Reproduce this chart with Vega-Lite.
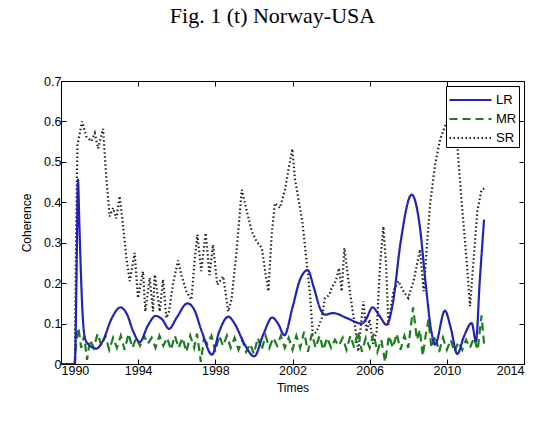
{
  "$schema": "https://vega.github.io/schema/vega-lite/v6.json",
  "width": 463,
  "height": 283,
  "autosize": {"type": "none"},
  "padding": {"left": 61, "top": 81, "right": 25, "bottom": 65},
  "background": "white",
  "title": {"text": "Fig. 1 (t) Norway-USA", "font": "Liberation Serif", "fontSize": 22, "fontWeight": "normal", "color": "black", "anchor": "middle", "offset": 47, "dx": -20},
  "datasets": {
    "lr": [
      {"series": "LR", "year": 1990.0, "value": 0}, {"series": "LR", "year": 1990.72, "value": 0}, {"series": "LR", "year": 1990.8, "value": 0.2}, {"series": "LR", "year": 1990.88, "value": 0.456},
      {"series": "LR", "year": 1990.95, "value": 0.35}, {"series": "LR", "year": 1991.05, "value": 0.2}, {"series": "LR", "year": 1991.15, "value": 0.1}, {"series": "LR", "year": 1991.25, "value": 0.062},
      {"series": "LR", "year": 1991.5, "value": 0.045}, {"series": "LR", "year": 1991.83, "value": 0.038}, {"series": "LR", "year": 1992.2, "value": 0.06}, {"series": "LR", "year": 1992.6, "value": 0.11},
      {"series": "LR", "year": 1993.09, "value": 0.14}, {"series": "LR", "year": 1993.4, "value": 0.125}, {"series": "LR", "year": 1993.75, "value": 0.08}, {"series": "LR", "year": 1994.08, "value": 0.054},
      {"series": "LR", "year": 1994.5, "value": 0.095}, {"series": "LR", "year": 1994.91, "value": 0.119}, {"series": "LR", "year": 1995.25, "value": 0.11}, {"series": "LR", "year": 1995.6, "value": 0.087},
      {"series": "LR", "year": 1996.0, "value": 0.115}, {"series": "LR", "year": 1996.55, "value": 0.15}, {"series": "LR", "year": 1996.9, "value": 0.135}, {"series": "LR", "year": 1997.3, "value": 0.08},
      {"series": "LR", "year": 1997.83, "value": 0.023}, {"series": "LR", "year": 1998.2, "value": 0.08}, {"series": "LR", "year": 1998.67, "value": 0.117}, {"series": "LR", "year": 1999.0, "value": 0.1},
      {"series": "LR", "year": 1999.5, "value": 0.05}, {"series": "LR", "year": 2000.02, "value": 0.019}, {"series": "LR", "year": 2000.5, "value": 0.075}, {"series": "LR", "year": 2000.95, "value": 0.115},
      {"series": "LR", "year": 2001.25, "value": 0.1}, {"series": "LR", "year": 2001.58, "value": 0.071}, {"series": "LR", "year": 2002.0, "value": 0.14}, {"series": "LR", "year": 2002.4, "value": 0.21},
      {"series": "LR", "year": 2002.79, "value": 0.232}, {"series": "LR", "year": 2003.1, "value": 0.19}, {"series": "LR", "year": 2003.45, "value": 0.135}, {"series": "LR", "year": 2003.68, "value": 0.122},
      {"series": "LR", "year": 2004.11, "value": 0.126}, {"series": "LR", "year": 2004.8, "value": 0.114}, {"series": "LR", "year": 2005.59, "value": 0.1}, {"series": "LR", "year": 2005.8, "value": 0.11},
      {"series": "LR", "year": 2006.15, "value": 0.14}, {"series": "LR", "year": 2006.5, "value": 0.12}, {"series": "LR", "year": 2006.88, "value": 0.097}, {"series": "LR", "year": 2007.2, "value": 0.15},
      {"series": "LR", "year": 2007.6, "value": 0.3}, {"series": "LR", "year": 2008.18, "value": 0.419}, {"series": "LR", "year": 2008.6, "value": 0.34}, {"series": "LR", "year": 2008.9, "value": 0.2},
      {"series": "LR", "year": 2009.2, "value": 0.08}, {"series": "LR", "year": 2009.39, "value": 0.048}, {"series": "LR", "year": 2009.9, "value": 0.132}, {"series": "LR", "year": 2010.2, "value": 0.09},
      {"series": "LR", "year": 2010.54, "value": 0.025}, {"series": "LR", "year": 2010.9, "value": 0.07}, {"series": "LR", "year": 2011.29, "value": 0.101}, {"series": "LR", "year": 2011.51, "value": 0.056},
      {"series": "LR", "year": 2011.7, "value": 0.2}, {"series": "LR", "year": 2011.93, "value": 0.357}
    ],
    "mr": [
      {"series": "MR", "year": 1990.0, "value": 0}, {"series": "MR", "year": 1990.7, "value": 0}, {"series": "MR", "year": 1990.78, "value": 0.05}, {"series": "MR", "year": 1990.9, "value": 0.09},
      {"series": "MR", "year": 1991.05, "value": 0.04}, {"series": "MR", "year": 1991.2, "value": 0.07}, {"series": "MR", "year": 1991.35, "value": 0.01}, {"series": "MR", "year": 1991.5, "value": 0.06},
      {"series": "MR", "year": 1991.7, "value": 0.04}, {"series": "MR", "year": 1991.9, "value": 0.075}, {"series": "MR", "year": 1992.1, "value": 0.045}, {"series": "MR", "year": 1992.3, "value": 0.07},
      {"series": "MR", "year": 1992.5, "value": 0.035}, {"series": "MR", "year": 1992.7, "value": 0.065}, {"series": "MR", "year": 1992.9, "value": 0.04}, {"series": "MR", "year": 1993.1, "value": 0.07},
      {"series": "MR", "year": 1993.3, "value": 0.035}, {"series": "MR", "year": 1993.5, "value": 0.075}, {"series": "MR", "year": 1993.7, "value": 0.04}, {"series": "MR", "year": 1993.9, "value": 0.065},
      {"series": "MR", "year": 1994.1, "value": 0.045}, {"series": "MR", "year": 1994.3, "value": 0.07}, {"series": "MR", "year": 1994.5, "value": 0.05}, {"series": "MR", "year": 1994.7, "value": 0.065},
      {"series": "MR", "year": 1994.9, "value": 0.04}, {"series": "MR", "year": 1995.1, "value": 0.07}, {"series": "MR", "year": 1995.3, "value": 0.045}, {"series": "MR", "year": 1995.5, "value": 0.065},
      {"series": "MR", "year": 1995.7, "value": 0.035}, {"series": "MR", "year": 1995.9, "value": 0.07}, {"series": "MR", "year": 1996.1, "value": 0.04}, {"series": "MR", "year": 1996.3, "value": 0.065},
      {"series": "MR", "year": 1996.5, "value": 0.03}, {"series": "MR", "year": 1996.7, "value": 0.07}, {"series": "MR", "year": 1996.9, "value": 0.04}, {"series": "MR", "year": 1997.05, "value": 0.075},
      {"series": "MR", "year": 1997.25, "value": 0.005}, {"series": "MR", "year": 1997.4, "value": 0.06}, {"series": "MR", "year": 1997.6, "value": 0.05}, {"series": "MR", "year": 1997.8, "value": 0.07},
      {"series": "MR", "year": 1998.0, "value": 0.03}, {"series": "MR", "year": 1998.2, "value": 0.07}, {"series": "MR", "year": 1998.4, "value": 0.045}, {"series": "MR", "year": 1998.6, "value": 0.07},
      {"series": "MR", "year": 1998.8, "value": 0.04}, {"series": "MR", "year": 1999.0, "value": 0.065}, {"series": "MR", "year": 1999.2, "value": 0.035}, {"series": "MR", "year": 1999.4, "value": 0.06},
      {"series": "MR", "year": 1999.6, "value": 0.03}, {"series": "MR", "year": 1999.8, "value": 0.05}, {"series": "MR", "year": 2000.0, "value": 0.025}, {"series": "MR", "year": 2000.2, "value": 0.065},
      {"series": "MR", "year": 2000.4, "value": 0.035}, {"series": "MR", "year": 2000.6, "value": 0.07}, {"series": "MR", "year": 2000.8, "value": 0.04}, {"series": "MR", "year": 2001.0, "value": 0.065},
      {"series": "MR", "year": 2001.2, "value": 0.045}, {"series": "MR", "year": 2001.4, "value": 0.07}, {"series": "MR", "year": 2001.6, "value": 0.04}, {"series": "MR", "year": 2001.8, "value": 0.065},
      {"series": "MR", "year": 2002.0, "value": 0.035}, {"series": "MR", "year": 2002.2, "value": 0.07}, {"series": "MR", "year": 2002.4, "value": 0.04}, {"series": "MR", "year": 2002.6, "value": 0.08},
      {"series": "MR", "year": 2002.8, "value": 0.03}, {"series": "MR", "year": 2003.0, "value": 0.075}, {"series": "MR", "year": 2003.2, "value": 0.04}, {"series": "MR", "year": 2003.4, "value": 0.07},
      {"series": "MR", "year": 2003.6, "value": 0.035}, {"series": "MR", "year": 2003.8, "value": 0.065}, {"series": "MR", "year": 2004.0, "value": 0.04}, {"series": "MR", "year": 2004.2, "value": 0.06},
      {"series": "MR", "year": 2004.4, "value": 0.045}, {"series": "MR", "year": 2004.6, "value": 0.065}, {"series": "MR", "year": 2004.8, "value": 0.035}, {"series": "MR", "year": 2005.0, "value": 0.07},
      {"series": "MR", "year": 2005.2, "value": 0.04}, {"series": "MR", "year": 2005.4, "value": 0.08}, {"series": "MR", "year": 2005.6, "value": 0.03}, {"series": "MR", "year": 2005.8, "value": 0.065},
      {"series": "MR", "year": 2006.0, "value": 0.04}, {"series": "MR", "year": 2006.2, "value": 0.075}, {"series": "MR", "year": 2006.4, "value": 0.03}, {"series": "MR", "year": 2006.6, "value": 0.06},
      {"series": "MR", "year": 2006.8, "value": 0.005}, {"series": "MR", "year": 2007.0, "value": 0.07}, {"series": "MR", "year": 2007.2, "value": 0.04}, {"series": "MR", "year": 2007.4, "value": 0.075},
      {"series": "MR", "year": 2007.6, "value": 0.035}, {"series": "MR", "year": 2007.8, "value": 0.07}, {"series": "MR", "year": 2008.0, "value": 0.04}, {"series": "MR", "year": 2008.25, "value": 0.14},
      {"series": "MR", "year": 2008.45, "value": 0.06}, {"series": "MR", "year": 2008.6, "value": 0.085}, {"series": "MR", "year": 2008.75, "value": 0.02}, {"series": "MR", "year": 2008.9, "value": 0.07},
      {"series": "MR", "year": 2009.05, "value": 0.11}, {"series": "MR", "year": 2009.2, "value": 0.04}, {"series": "MR", "year": 2009.4, "value": 0.07}, {"series": "MR", "year": 2009.6, "value": 0.03},
      {"series": "MR", "year": 2009.8, "value": 0.065}, {"series": "MR", "year": 2010.0, "value": 0.035}, {"series": "MR", "year": 2010.2, "value": 0.06}, {"series": "MR", "year": 2010.4, "value": 0.03},
      {"series": "MR", "year": 2010.6, "value": 0.055}, {"series": "MR", "year": 2010.8, "value": 0.035}, {"series": "MR", "year": 2011.0, "value": 0.06}, {"series": "MR", "year": 2011.2, "value": 0.04},
      {"series": "MR", "year": 2011.4, "value": 0.065}, {"series": "MR", "year": 2011.6, "value": 0.035}, {"series": "MR", "year": 2011.8, "value": 0.12}, {"series": "MR", "year": 2011.95, "value": 0.04}
    ],
    "sr": [
      {"series": "SR", "year": 1990.0, "value": 0}, {"series": "SR", "year": 1990.72, "value": 0}, {"series": "SR", "year": 1990.78, "value": 0.3}, {"series": "SR", "year": 1990.85, "value": 0.54},
      {"series": "SR", "year": 1991.09, "value": 0.6}, {"series": "SR", "year": 1991.31, "value": 0.563}, {"series": "SR", "year": 1991.57, "value": 0.551}, {"series": "SR", "year": 1991.75, "value": 0.571},
      {"series": "SR", "year": 1991.92, "value": 0.533}, {"series": "SR", "year": 1992.18, "value": 0.582}, {"series": "SR", "year": 1992.35, "value": 0.46}, {"series": "SR", "year": 1992.52, "value": 0.365},
      {"series": "SR", "year": 1992.7, "value": 0.386}, {"series": "SR", "year": 1992.87, "value": 0.36}, {"series": "SR", "year": 1993.04, "value": 0.415}, {"series": "SR", "year": 1993.21, "value": 0.345},
      {"series": "SR", "year": 1993.39, "value": 0.262}, {"series": "SR", "year": 1993.56, "value": 0.205}, {"series": "SR", "year": 1993.82, "value": 0.275}, {"series": "SR", "year": 1993.99, "value": 0.163},
      {"series": "SR", "year": 1994.25, "value": 0.229}, {"series": "SR", "year": 1994.37, "value": 0.13}, {"series": "SR", "year": 1994.6, "value": 0.213}, {"series": "SR", "year": 1994.77, "value": 0.13},
      {"series": "SR", "year": 1994.86, "value": 0.221}, {"series": "SR", "year": 1995.12, "value": 0.13}, {"series": "SR", "year": 1995.29, "value": 0.209}, {"series": "SR", "year": 1995.46, "value": 0.114},
      {"series": "SR", "year": 1995.6, "value": 0.13}, {"series": "SR", "year": 1995.81, "value": 0.2}, {"series": "SR", "year": 1996.07, "value": 0.256}, {"series": "SR", "year": 1996.24, "value": 0.22},
      {"series": "SR", "year": 1996.5, "value": 0.18}, {"series": "SR", "year": 1996.76, "value": 0.159}, {"series": "SR", "year": 1996.93, "value": 0.258}, {"series": "SR", "year": 1997.07, "value": 0.32},
      {"series": "SR", "year": 1997.27, "value": 0.23}, {"series": "SR", "year": 1997.5, "value": 0.324}, {"series": "SR", "year": 1997.7, "value": 0.22}, {"series": "SR", "year": 1997.88, "value": 0.295},
      {"series": "SR", "year": 1998.1, "value": 0.196}, {"series": "SR", "year": 1998.41, "value": 0.217}, {"series": "SR", "year": 1998.67, "value": 0.13}, {"series": "SR", "year": 1998.84, "value": 0.16},
      {"series": "SR", "year": 1999.1, "value": 0.279}, {"series": "SR", "year": 1999.37, "value": 0.431}, {"series": "SR", "year": 1999.63, "value": 0.378}, {"series": "SR", "year": 1999.89, "value": 0.328},
      {"series": "SR", "year": 2000.14, "value": 0.303}, {"series": "SR", "year": 2000.41, "value": 0.287}, {"series": "SR", "year": 2000.58, "value": 0.23}, {"series": "SR", "year": 2000.75, "value": 0.18},
      {"series": "SR", "year": 2000.92, "value": 0.32}, {"series": "SR", "year": 2001.09, "value": 0.398}, {"series": "SR", "year": 2001.35, "value": 0.386}, {"series": "SR", "year": 2001.61, "value": 0.431},
      {"series": "SR", "year": 2001.82, "value": 0.489}, {"series": "SR", "year": 2001.99, "value": 0.532}, {"series": "SR", "year": 2002.12, "value": 0.46}, {"series": "SR", "year": 2002.3, "value": 0.41},
      {"series": "SR", "year": 2002.51, "value": 0.353}, {"series": "SR", "year": 2002.73, "value": 0.254}, {"series": "SR", "year": 2002.91, "value": 0.171}, {"series": "SR", "year": 2003.05, "value": 0.072},
      {"series": "SR", "year": 2003.25, "value": 0.08}, {"series": "SR", "year": 2003.52, "value": 0.114}, {"series": "SR", "year": 2003.68, "value": 0.163}, {"series": "SR", "year": 2003.9, "value": 0.17},
      {"series": "SR", "year": 2004.03, "value": 0.188}, {"series": "SR", "year": 2004.24, "value": 0.205}, {"series": "SR", "year": 2004.41, "value": 0.237}, {"series": "SR", "year": 2004.55, "value": 0.18},
      {"series": "SR", "year": 2004.69, "value": 0.287}, {"series": "SR", "year": 2004.89, "value": 0.21}, {"series": "SR", "year": 2005.07, "value": 0.147}, {"series": "SR", "year": 2005.25, "value": 0.09},
      {"series": "SR", "year": 2005.41, "value": 0.031}, {"series": "SR", "year": 2005.67, "value": 0.155}, {"series": "SR", "year": 2005.84, "value": 0.08}, {"series": "SR", "year": 2006.0, "value": 0.11},
      {"series": "SR", "year": 2006.17, "value": 0.05}, {"series": "SR", "year": 2006.36, "value": 0.08}, {"series": "SR", "year": 2006.54, "value": 0.246}, {"series": "SR", "year": 2006.71, "value": 0.34},
      {"series": "SR", "year": 2006.85, "value": 0.246}, {"series": "SR", "year": 2006.97, "value": 0.097}, {"series": "SR", "year": 2007.23, "value": 0.18}, {"series": "SR", "year": 2007.49, "value": 0.205},
      {"series": "SR", "year": 2007.75, "value": 0.18}, {"series": "SR", "year": 2008.0, "value": 0.163}, {"series": "SR", "year": 2008.3, "value": 0.21}, {"series": "SR", "year": 2008.61, "value": 0.283},
      {"series": "SR", "year": 2008.8, "value": 0.18}, {"series": "SR", "year": 2008.96, "value": 0.287}, {"series": "SR", "year": 2009.13, "value": 0.394}, {"series": "SR", "year": 2009.39, "value": 0.493},
      {"series": "SR", "year": 2009.65, "value": 0.555}, {"series": "SR", "year": 2010.0, "value": 0.6}, {"series": "SR", "year": 2010.35, "value": 0.58}, {"series": "SR", "year": 2010.54, "value": 0.542},
      {"series": "SR", "year": 2010.77, "value": 0.4}, {"series": "SR", "year": 2011.03, "value": 0.254}, {"series": "SR", "year": 2011.2, "value": 0.143}, {"series": "SR", "year": 2011.37, "value": 0.246},
      {"series": "SR", "year": 2011.58, "value": 0.378}, {"series": "SR", "year": 2011.8, "value": 0.431}, {"series": "SR", "year": 2011.98, "value": 0.435}
    ]
  },
  "resolve": {"axis": {"x": "independent", "y": "independent"}},
  "layer": [
    {
      "data": {"name": "sr"},
      "mark": {"type": "line", "interpolate": "linear", "clip": true},
      "encoding": {
        "x": {"field": "year", "type": "quantitative", "scale": {"domain": [1990, 2014], "nice": false, "zero": false},
              "axis": {"orient": "bottom", "values": [1990, 1994, 1998, 2002, 2006, 2010, 2014], "format": "d", "title": "Times"}},
        "y": {"field": "value", "type": "quantitative", "scale": {"domain": [0, 0.7], "nice": false},
              "axis": {"orient": "left", "values": [0, 0.1, 0.2, 0.3, 0.4, 0.5, 0.6, 0.7], "format": ".1~f", "title": "Coherence"}},
        "color": {"field": "series", "type": "nominal", "scale": {"domain": ["LR", "MR", "SR"], "range": ["#2222b4", "#1e7d1e", "#222222"]}, "legend": {"title": null}},
        "strokeDash": {"field": "series", "type": "nominal", "scale": {"domain": ["LR", "MR", "SR"], "range": [[1, 0], [8, 5], [1.5, 2.5]]}, "legend": {"title": null}},
        "strokeWidth": {"field": "series", "type": "nominal", "scale": {"domain": ["LR", "MR", "SR"], "range": [2.2, 2.2, 1.2]}, "legend": {"title": null}}
      }
    },
    {
      "data": {"name": "mr"},
      "mark": {"type": "line", "interpolate": "linear", "clip": true},
      "encoding": {
        "x": {"field": "year", "type": "quantitative",
              "axis": {"orient": "top", "values": [1990, 1994, 1998, 2002, 2006, 2010, 2014], "labels": false, "title": null}},
        "y": {"field": "value", "type": "quantitative",
              "axis": {"orient": "right", "values": [0, 0.1, 0.2, 0.3, 0.4, 0.5, 0.6, 0.7], "labels": false, "title": null}},
        "color": {"field": "series", "type": "nominal"},
        "strokeDash": {"field": "series", "type": "nominal"},
        "strokeWidth": {"field": "series", "type": "nominal"}
      }
    },
    {
      "data": {"name": "lr"},
      "mark": {"type": "line", "interpolate": "monotone", "clip": true},
      "encoding": {
        "x": {"field": "year", "type": "quantitative", "axis": null},
        "y": {"field": "value", "type": "quantitative", "axis": null},
        "color": {"field": "series", "type": "nominal"},
        "strokeDash": {"field": "series", "type": "nominal"},
        "strokeWidth": {"field": "series", "type": "nominal"}
      }
    }
  ],
  "config": {
    "view": {"stroke": "black", "strokeWidth": 1},
    "axis": {
      "domain": false, "grid": false,
      "ticks": true, "tickColor": "black", "tickSize": -5, "tickWidth": 1,
      "labelFont": "Liberation Sans", "labelFontSize": 12.5, "labelColor": "black",
      "labelPadding": 5,
      "titleFont": "Liberation Sans", "titleFontSize": 12, "titleFontWeight": "normal", "titleColor": "black"
    },
    "axisX": {"titlePadding": 6},
    "axisY": {"titlePadding": 10},
    "legend": {
      "orient": "top-right", "offset": 5,
      "fillColor": "white", "strokeColor": "black", "padding": 2,
      "symbolType": "M-1,0H3", "symbolSize": 441,
      "labelFont": "Liberation Sans", "labelFontSize": 13, "labelColor": "black",
      "rowPadding": 0, "labelOffset": 24
    }
  }
}
